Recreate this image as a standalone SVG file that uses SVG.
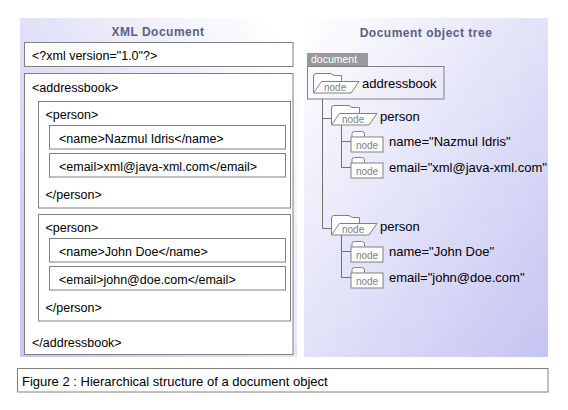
<svg xmlns="http://www.w3.org/2000/svg" xmlns:xlink="http://www.w3.org/1999/xlink" width="568" height="410" viewBox="0 0 568 410">
<style>
text{font-family:"Liberation Sans",Arial,sans-serif;}
.title{font-size:12px;font-weight:bold;fill:#5e5e84;letter-spacing:0.5px;}
.xml{font-size:12.5px;fill:#000;}
.box{fill:#fff;stroke:#808080;stroke-width:1;}
.tree{font-size:13px;fill:#000;}
.lbl{font-size:10px;fill:#808080;}
.ico{fill:#fff;stroke:#808080;stroke-width:1;}
.conn{fill:none;stroke:#707070;stroke-width:1;}
</style>
<defs>
<linearGradient id="gl" x1="0.9" y1="0" x2="0" y2="0.8">
<stop offset="0" stop-color="#ffffff"/>
<stop offset="1" stop-color="#c8c8f2"/>
</linearGradient>
<linearGradient id="gr" x1="0" y1="0" x2="1" y2="1">
<stop offset="0" stop-color="#ffffff"/>
<stop offset="1" stop-color="#c4c4f2"/>
</linearGradient>
<g id="folder">
<path class="ico" d="M0.5,20 V3 Q0.5,0.5 3,0.5 H18 L21,2.5 H28.5 V8"/>
<path class="ico" d="M0.5,20 L8.5,8.5 H46 L38,20 Z"/>
<text class="lbl" x="11" y="18">node</text>
</g>
<g id="leaf">
<path class="ico" d="M1.5,0 V-3 Q1.5,-5 4,-5 H11 Q14,-5 14,-2.5 V0"/>
<rect class="ico" x="0.5" y="0.5" width="32" height="15"/>
<text class="lbl" x="16.5" y="12" text-anchor="middle">node</text>
</g>
</defs>
<rect width="568" height="410" fill="#fff"/>
<!-- panels -->
<rect x="20" y="18" width="277" height="339" fill="url(#gl)"/>
<rect x="304" y="18" width="244" height="339" fill="url(#gr)"/>
<text class="title" x="158" y="36" text-anchor="middle">XML Document</text>
<text class="title" x="426" y="37" text-anchor="middle">Document object tree</text>

<!-- XML document side -->
<g id="xml-decl">
<rect class="box" x="24.5" y="42.5" width="268.5" height="24"/>
<text class="xml" x="32" y="60">&lt;?xml version="1.0"?&gt;</text>
</g>
<g id="xml-addressbook">
<rect class="box" x="24.5" y="73.5" width="268.5" height="281"/>
<text class="xml" x="32" y="92">&lt;addressbook&gt;</text>
<text class="xml" x="32" y="347">&lt;/addressbook&gt;</text>
</g>
<g id="xml-person1">
<rect class="box" x="38.5" y="101.5" width="252" height="106.5"/>
<text class="xml" x="45.5" y="118.5">&lt;person&gt;</text>
<text class="xml" x="45.5" y="199">&lt;/person&gt;</text>
</g>
<g id="xml-name1">
<rect class="box" x="49.5" y="125.5" width="236" height="23.5"/>
<text class="xml" x="59" y="142.5">&lt;name&gt;Nazmul Idris&lt;/name&gt;</text>
</g>
<g id="xml-email1">
<rect class="box" x="49.5" y="153.5" width="236" height="23.5"/>
<text class="xml" x="59" y="170.5">&lt;email&gt;xml@java-xml.com&lt;/email&gt;</text>
</g>
<g id="xml-person2">
<rect class="box" x="38.5" y="214.5" width="252" height="106.5"/>
<text class="xml" x="45.5" y="231.5">&lt;person&gt;</text>
<text class="xml" x="45.5" y="312">&lt;/person&gt;</text>
</g>
<g id="xml-name2">
<rect class="box" x="49.5" y="238.5" width="236" height="23.5"/>
<text class="xml" x="59" y="255.5">&lt;name&gt;John Doe&lt;/name&gt;</text>
</g>
<g id="xml-email2">
<rect class="box" x="49.5" y="266.5" width="236" height="23.5"/>
<text class="xml" x="59" y="283.5">&lt;email&gt;john@doe.com&lt;/email&gt;</text>
</g>

<!-- connectors -->
<g id="connectors">
<path class="conn" d="M322.5,99 V228.5 M322.5,118.5 H331 M322.5,228.5 H331"/>
<path class="conn" d="M341.5,125 V167.5 M341.5,141.5 H351 M341.5,167.5 H351"/>
<path class="conn" d="M341.5,235 V277.5 M341.5,251.5 H351 M341.5,277.5 H351"/>
</g>

<!-- tree side -->
<g id="document">
<rect x="307" y="53" width="61" height="13" fill="#999999"/>
<text x="311" y="63" fill="#ffffff" style="font-size:10.5px">document</text>
<rect x="307.5" y="66.5" width="136.5" height="32.5" fill="none" stroke="#808080" stroke-width="1"/>
</g>
<g id="node-addressbook">
<use xlink:href="#folder" x="313" y="73"/>
<text class="tree" x="362" y="88">addressbook</text>
</g>
<g id="node-person1">
<use xlink:href="#folder" x="331" y="105"/>
<text class="tree" x="380" y="121">person</text>
</g>
<g id="node-name1">
<use xlink:href="#leaf" x="350.5" y="136.5"/>
<text class="tree" x="389" y="146">name="Nazmul Idris"</text>
</g>
<g id="node-email1">
<use xlink:href="#leaf" x="350.5" y="162.5"/>
<text class="tree" x="389" y="172">email="xml@java-xml.com"</text>
</g>
<g id="node-person2">
<use xlink:href="#folder" x="331" y="215"/>
<text class="tree" x="380" y="231">person</text>
</g>
<g id="node-name2">
<use xlink:href="#leaf" x="350.5" y="246.5"/>
<text class="tree" x="389" y="256">name="John Doe"</text>
</g>
<g id="node-email2">
<use xlink:href="#leaf" x="350.5" y="272.5"/>
<text class="tree" x="389" y="282">email="john@doe.com"</text>
</g>

<!-- caption -->
<g id="caption">
<rect class="box" x="17.5" y="368.5" width="530.5" height="23.5"/>
<text x="22" y="386" font-size="13" fill="#000">Figure 2 : Hierarchical structure of a document object</text>
</g>
</svg>
